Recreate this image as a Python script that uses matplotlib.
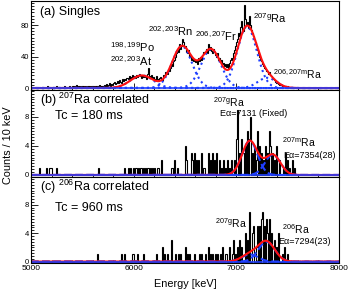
import numpy as np
import matplotlib

matplotlib.use("Agg")
import matplotlib.pyplot as plt  # noqa: E402
from matplotlib.ticker import MultipleLocator  # noqa: E402

plt.rcParams["font.family"] = ["Liberation Sans", "DejaVu Sans"]
plt.rcParams["mathtext.fontset"] = "custom"
plt.rcParams["mathtext.rm"] = "Liberation Sans"
plt.rcParams["mathtext.it"] = "Liberation Sans:italic"

# 10 keV bins starting at 5000 keV
bin_width = 10
e_min, e_max = 5000, 8000

# (a) singles spectrum, counts per bin from 5000 keV upward (rest are zero)
a_counts = [
    0, 1, 0, 0, 1, 0, 0, 0, 1, 0,
    0, 1, 0, 1, 0, 0, 2, 0, 1, 0,
    1, 0, 0, 1, 2, 0, 1, 0, 0, 1,
    1, 0, 2, 1, 0, 1, 1, 2, 0, 1,
    3, 2, 1, 2, 4, 1, 2, 3, 1, 2,
    2, 3, 1, 2, 1, 3, 2, 1, 2, 3,
    2, 1, 3, 2, 3, 2, 4, 2, 3, 2,
    3, 4, 2, 5, 3, 4, 6, 3, 5, 4,
    6, 8, 5, 7, 9, 6, 10, 8, 7, 11,
    9, 12, 10, 13, 11, 15, 12, 14, 16, 13,
    15, 13, 17, 14, 16, 18, 15, 13, 17, 14,
    16, 14, 12, 18, 25, 15, 13, 16, 11, 14,
    12, 10, 15, 11, 9, 13, 14, 12, 10, 16,
    16, 20, 18, 24, 22, 26, 30, 28, 34, 36,
    40, 44, 48, 46, 56, 50, 54, 62, 58, 52,
    54, 46, 44, 48, 40, 42, 36, 38, 34, 37,
    33, 36, 30, 38, 34, 40, 36, 42, 46, 44,
    50, 45, 56, 48, 52, 47, 44, 50, 46, 42,
    40, 44, 36, 38, 33, 35, 30, 32, 28, 30,
    27, 30, 26, 32, 35, 38, 36, 44, 48, 54,
    58, 62, 70, 66, 78, 85, 72, 106, 88, 80,
    84, 76, 92, 80, 74, 70, 66, 62, 58, 54,
    48, 44, 40, 36, 34, 30, 28, 26, 24, 22,
    22, 18, 20, 16, 15, 13, 11, 10, 8, 7,
    6, 5, 4, 4, 3, 3, 2, 2, 1, 2,
    1, 1, 0, 1, 0, 0, 1, 0, 0, 0,
]

# (b) 207Ra-correlated, non-empty bins (lower edge, keV) and counts
b_bins = [5080, 5150, 5180, 5190, 5240, 5650, 5910, 5940, 5960, 5990,
          6010, 6020, 6040, 6060, 6070, 6090, 6110, 6130, 6140, 6160,
          6180, 6200, 6230, 6240, 6270, 6360, 6370, 6390, 6420, 6500,
          6510, 6560, 6570, 6590, 6610, 6630, 6660, 6680, 6720, 6740,
          6760, 6780, 6800, 6830, 6850, 6870, 6890, 6910, 6930, 6950,
          6980, 7000, 7010, 7030, 7050, 7060, 7080, 7100, 7120, 7130,
          7150, 7170, 7190, 7200, 7220, 7240, 7260, 7280, 7300, 7320,
          7330, 7350, 7370, 7390, 7420, 7450, 7470, 7490, 7510, 7540,
          7560]
b_counts = [1, 1, 1, 1, 1, 1, 1, 1, 1, 1,
            1, 1, 1, 1, 1, 1, 1, 1, 1, 1,
            1, 1, 1, 1, 2, 1, 1, 2, 1, 4,
            2, 3, 2, 3, 2, 2, 3, 1, 3, 2,
            3, 2, 3, 2, 1, 2, 1, 2, 1, 2,
            2, 5, 9, 3, 5, 3, 4, 6, 5, 8,
            3, 4, 2, 6, 4, 3, 2, 4, 3, 6,
            4, 3, 2, 4, 2, 1, 3, 2, 1, 2,
            1]

# (c) 206Ra-correlated
c_bins = [5640, 5880, 5910, 5980, 5990, 6030, 6090, 6220, 6280, 6300,
          6320, 6360, 6400, 6430, 6450, 6500, 6520, 6540, 6590, 6640,
          6660, 6690, 6720, 6740, 6760, 6790, 6810, 6840, 6860, 6890,
          6900, 6930, 6960, 6970, 6990, 7010, 7030, 7050, 7080, 7100,
          7120, 7150, 7160, 7190, 7200, 7220, 7240, 7250, 7270, 7290,
          7300, 7320, 7340, 7370, 7390, 7410, 7440, 7460, 7490]
c_counts = [1, 1, 1, 1, 1, 1, 1, 1, 2, 1,
            1, 3, 1, 1, 1, 2, 1, 1, 1, 1,
            1, 1, 2, 1, 1, 1, 1, 1, 2, 1,
            1, 2, 1, 3, 1, 2, 3, 2, 4, 3,
            7, 4, 5, 2, 5, 5, 6, 7, 5, 6,
            4, 6, 4, 3, 2, 4, 1, 2, 1]

# fitted peaks: centroid (keV), amplitude (counts/bin), width (keV)
a_peak_e = [6080, 6470, 6753, 7104, 7300]
a_peak_amp = [16, 53, 49, 78, 13]
a_peak_sigma = [110, 97, 97, 95, 90]

b_peak_e = [7131, 7354]
b_peak_amp = [4.7, 2.8]
b_peak_sigma = [75, 75]

c_peak_e = [7131, 7294]
c_peak_amp = [1.0, 2.8]
c_peak_sigma = [80, 80]

W, H = 359, 292
BLUE = "#1f3fff"
RED = "#ff1010"


def fx(x):
    return x / W


def fy(y):
    return 1 - y / H


def binned(bins, counts):
    n = (e_max - e_min) // bin_width
    out = np.zeros(n)
    for b, c in zip(bins, counts):
        out[(b - e_min) // bin_width] = c
    return out


def gauss(e, mu, amp, sig):
    return amp * np.exp(-0.5 * ((e - mu) / sig) ** 2)


edges = np.arange(e_min, e_max + bin_width, bin_width)
n_bins = len(edges) - 1
hist_a = np.zeros(n_bins)
hist_a[:len(a_counts)] = a_counts
hist_b = binned(b_bins, b_counts)
hist_c = binned(c_bins, c_counts)
egrid = np.linspace(e_min, e_max, 1500)

fig = plt.figure(figsize=(W / 100, H / 100), dpi=100)
left, width = fx(31), (339 - 31) / W
ax_a = fig.add_axes([left, fy(90), width, 89 / H])
ax_b = fig.add_axes([left, fy(177), width, 87 / H])
ax_c = fig.add_axes([left, fy(263), width, 86 / H])

panels = [
    (ax_a, hist_a, a_peak_e, a_peak_amp, a_peak_sigma, (-2.5, 110.5), 40, 4, ":"),
    (ax_b, hist_b, b_peak_e, b_peak_amp, b_peak_sigma, (-0.28, 11.7), 4, 0.4, "--"),
    (ax_c, hist_c, c_peak_e, c_peak_amp, c_peak_sigma, (-0.2, 11.9), 4, 0.4, "--"),
]
for ax, hist, pe, pa, ps, ylim, major, minor, ls in panels:
    ax.stairs(hist, edges, color="black", lw=0.8)
    ax.axhline(0, color=BLUE, lw=1.2, zorder=2.5)
    total = np.zeros_like(egrid)
    for mu, amp, sig in zip(pe, pa, ps):
        comp = gauss(egrid, mu, amp, sig)
        total += comp
        ax.plot(egrid, comp, color=BLUE, ls=ls, lw=1.5)
    ax.plot(egrid, total, color=RED, lw=1.5)
    ax.set_xlim(e_min, e_max)
    ax.set_ylim(*ylim)
    ax.yaxis.set_major_locator(MultipleLocator(major))
    ax.yaxis.set_minor_locator(MultipleLocator(minor))
    ax.xaxis.set_major_locator(MultipleLocator(1000))
    ax.xaxis.set_minor_locator(MultipleLocator(200))
    ax.tick_params(which="both", direction="in", top=False, right=False,
                   labelsize=5.5, pad=1.5, width=0.6)
    ax.tick_params(which="major", length=5)
    ax.tick_params(which="minor", length=2.5)
    for s in ax.spines.values():
        s.set_linewidth(0.8)
    if ax is not ax_c:
        ax.tick_params(labelbottom=False)

ax_c.tick_params(axis="x", labelsize=6)
fig.text(fx(185), fy(284), "Energy [keV]", fontsize=7.8, ha="center", va="center")
fig.text(fx(8), fy(145), "Counts / 10 keV", fontsize=7.8, rotation=90,
         ha="center", va="center")


def label(x, y, s, size=9):
    fig.text(fx(x), fy(y), s, fontsize=size, ha="left", va="center")


label(40, 12, "(a) Singles")
label(110, 47, r"$^{\mathrm{198,199}}$Po", size=8)
label(110, 61, r"$^{\mathrm{202,203}}$At", size=8)
label(148, 31, r"$^{\mathrm{202,203}}$Rn", size=8)
label(195, 36, r"$^{\mathrm{206,207}}$Fr", size=8)
label(253, 18, r"$^{\mathrm{207g}}$Ra", size=8)
label(273, 74, r"$^{\mathrm{206,207m}}$Ra", size=7.5)

label(40, 100, r"(b) $^{\mathrm{207}}$Ra correlated")
label(55, 116, "Tc = 180 ms")
label(213, 102, r"$^{\mathrm{207g}}$Ra", size=7.5)
label(220, 114, "Eα=7131 (Fixed)", size=6.5)
label(282, 142, r"$^{\mathrm{207m}}$Ra", size=7.5)
label(283, 155, "Eα=7354(28)", size=6.5)

label(40, 187, r"(c) $^{\mathrm{206}}$Ra correlated")
label(55, 208, "Tc = 960 ms")
label(215, 223, r"$^{\mathrm{207g}}$Ra", size=7.5)
label(282, 229, r"$^{\mathrm{206}}$Ra", size=7.5)
label(278, 242, "Eα=7294(23)", size=6.5)

fig.savefig("out.png", dpi=100)
